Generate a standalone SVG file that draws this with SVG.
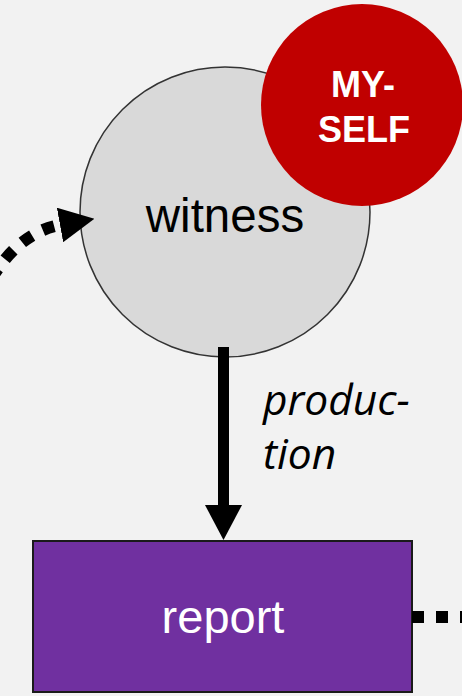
<svg xmlns="http://www.w3.org/2000/svg" width="462" height="696" viewBox="0 0 462 696">
<defs>
<style>
.lbl{font-family:"Liberation Sans",Arial,sans-serif;text-anchor:middle}
.bold{font-weight:bold;fill:#fff;font-size:36px}
.edge{fill:none;stroke:#000}
.it{font-family:"Open Sans",sans-serif;font-style:italic;font-size:42.5px;fill:#000}
</style>
<marker id="headBig" markerUnits="userSpaceOnUse" viewBox="0 0 35 37" refX="0" refY="18.5" markerWidth="35" markerHeight="37" orient="auto">
<path d="M0,0 L35,18.5 L0,37 z" fill="#000"/>
</marker>
<marker id="headDot" markerUnits="userSpaceOnUse" viewBox="0 0 35 35" refX="0" refY="17.5" markerWidth="35" markerHeight="35" orient="auto">
<path d="M0,0 L35,17.5 L0,35 z" fill="#000"/>
</marker>
</defs>
<rect width="462" height="696" fill="#F2F2F2"/>
<g id="witness">
<circle cx="225" cy="212" r="145" fill="#D9D9D9" stroke="#333" stroke-width="1.5"/>
<text class="lbl" x="225" y="232" font-size="47.5" fill="#000">witness</text>
</g>
<g id="myself">
<circle cx="362" cy="105" r="101" fill="#C00000"/>
<text class="lbl bold" x="363" y="97">MY-</text>
<text class="lbl bold" x="364" y="142">SELF</text>
</g>
<g id="report">
<rect x="33" y="541" width="379" height="151" fill="#7030A0" stroke="#1a1a1a" stroke-width="2"/>
<text class="lbl" x="223" y="633" font-size="47" fill="#fff">report</text>
</g>
<g id="connectors">
<path class="edge" d="M-20,300 Q11,234 60,225" stroke-width="12" stroke-dasharray="12 12" marker-end="url(#headDot)"/>
<line class="edge" x1="223.5" y1="347" x2="223.5" y2="505" stroke-width="11" marker-end="url(#headBig)"/>
<line class="edge" x1="412" y1="617" x2="462" y2="617" stroke-width="12" stroke-dasharray="12 12"/>
<text class="it" x="263" y="415">produc-</text>
<text class="it" x="263" y="469">tion</text>
</g>
</svg>
